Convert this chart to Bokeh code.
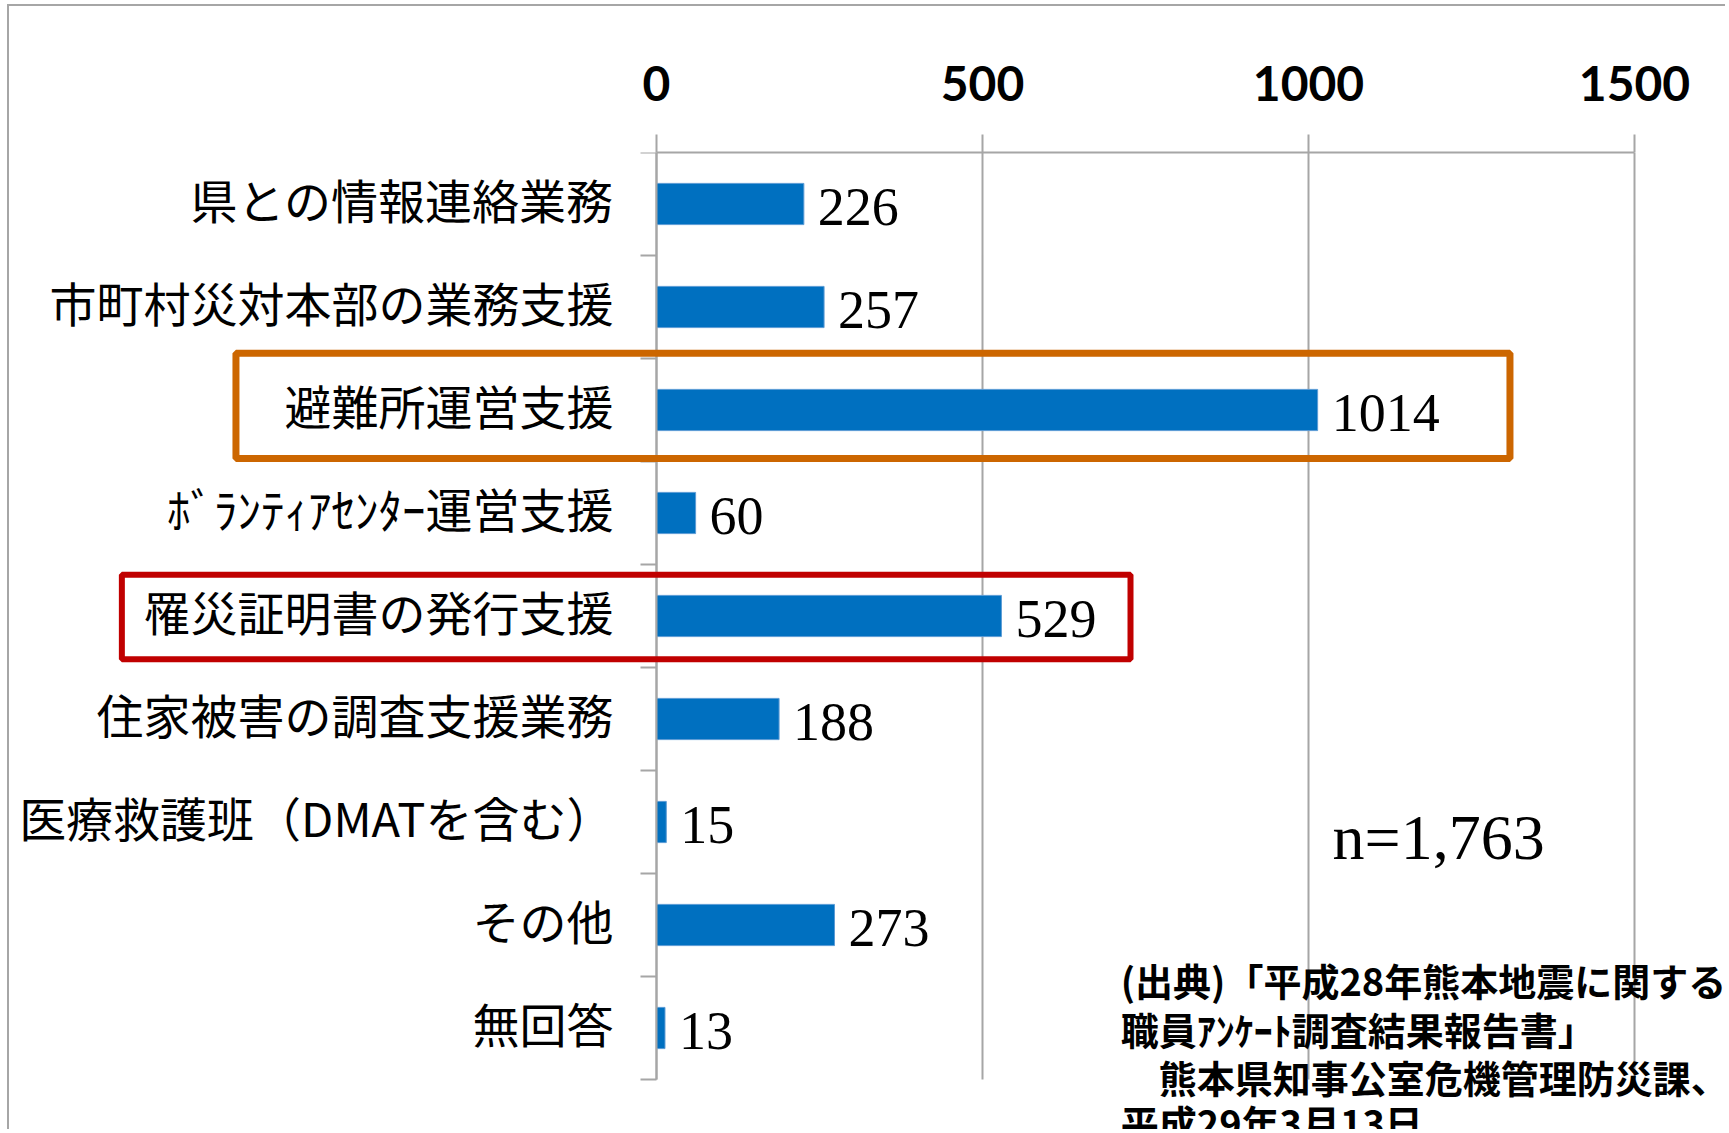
from bokeh.plotting import figure
from bokeh.models import (Range1d, FixedTicker, BoxAnnotation, Label, ColumnDataSource)
from bokeh.embed import file_html
from bokeh.resources import INLINE
from bokeh.core.properties import value

# ---- data ----
categories = ["県との情報連絡業務", "市町村災対本部の業務支援", "避難所運営支援",
              "ﾎﾞﾗﾝﾃｨｱｾﾝﾀｰ運営支援", "罹災証明書の発行支援", "住家被害の調査支援業務",
              "医療救護班（DMATを含む）", "その他", "無回答"]
counts = [226, 257, 1014, 60, 529, 188, 15, 273, 13]
x_ticks = [0, 500, 1000, 1500]
x_tick_labels = ["0", "500", "1000", "1500"]
n_note = "n=1,763"
source_lines = ["(出典)「平成28年熊本地震に関する県",
                "職員ｱﾝｹｰﾄ調査結果報告書」",
                "　熊本県知事公室危機管理防災課、",
                "平成29年3月13日"]
highlight_orange = 2   # index of 避難所運営支援
highlight_red = 4      # index of 罹災証明書の発行支援

W, H = 1718, 1125
TOP = 146
ROW = 103.0
PX = 0.652  # px per unit
x0_px = 647  # canvas x of value 0
nrows = len(categories)
xr = Range1d(-x0_px / PX, (W - x0_px) / PX)
yr = Range1d((H - TOP) / ROW, 0)

p = figure(width=W, height=H, x_range=xr, y_range=yr,
           output_backend="svg", toolbar_location=None,
           x_axis_location="above",
           min_border_left=0, min_border_right=0,
           min_border_top=TOP, min_border_bottom=0)
p.styles = {"margin-left": "7px", "margin-top": "4px",
            "border-left": "2px solid #a6a6a6", "border-top": "2px solid #a6a6a6"}
p.outline_line_color = None
p.background_fill_color = "white"
p.border_fill_color = "white"

centers = [i + 0.5 for i in range(nrows)]
label_pos = [i + 0.45 for i in range(nrows)]
src = ColumnDataSource(dict(y=centers, v=counts, lab=[str(c) for c in counts]))

p.hbar(y="y", right="v", left=0, height=0.4, source=src,
       fill_color="#0070C0", line_color="#5b9bd5", line_width=1)

p.text(x="v", y="y", text="lab", source=src, x_offset=14, y_offset=3,
       text_align="left", text_baseline="middle",
       text_font=value("Liberation Serif"), text_font_size="54px",
       text_color="black")

# x axis (top)
xa = p.xaxis[0]
xa.ticker = FixedTicker(ticks=x_ticks)
xa.major_label_overrides = {t: l for t, l in zip(x_ticks, x_tick_labels)}
xa.bounds = (0, 1500)
xa.axis_line_color = "#a6a6a6"
xa.axis_line_width = 2
xa.major_tick_line_color = "#a6a6a6"
xa.major_tick_line_width = 2
xa.major_tick_out = 18
xa.major_tick_in = 0
xa.minor_tick_line_color = None
xa.major_label_text_font = "Lato"
xa.major_label_text_font_style = "bold"
xa.major_label_text_font_size = "48px"
xa.major_label_text_color = "black"
xa.major_label_standoff = 34

# y axis (categories) at x = 0
ya = p.yaxis[0]
ya.fixed_location = 0
ya.bounds = (0, nrows)
ya.ticker = FixedTicker(ticks=label_pos, minor_ticks=list(range(nrows + 1)))
ya.major_label_overrides = {c: name for c, name in zip(label_pos, categories)}
ya.axis_line_color = "#a6a6a6"
ya.axis_line_width = 2
ya.major_tick_line_color = None
ya.major_tick_out = 0
ya.major_tick_in = 0
ya.minor_tick_line_color = "#a6a6a6"
ya.minor_tick_line_width = 2
ya.minor_tick_out = 16
ya.minor_tick_in = 0
ya.major_label_text_font = "Noto Sans CJK JP"
ya.major_label_text_font_size = "47px"
ya.major_label_text_color = "black"
ya.major_label_standoff = 27

p.xgrid.ticker = FixedTicker(ticks=x_ticks)
p.xgrid.grid_line_color = "#a6a6a6"
p.xgrid.grid_line_width = 2
p.xgrid.cross_bounds = (0, nrows)
p.ygrid.visible = False

# highlight boxes
p.add_layout(BoxAnnotation(left=-645, right=1309, top=highlight_orange - 0.05,
                           bottom=highlight_orange + 0.97, fill_color=None, fill_alpha=0,
                           line_color="#CC6600", line_alpha=1.0, line_width=7))
p.add_layout(BoxAnnotation(left=-820, right=727, top=highlight_red + 0.1,
                           bottom=highlight_red + 0.92, fill_color=None, fill_alpha=0,
                           line_color="#C00000", line_alpha=1.0, line_width=6))

# notes
p.add_layout(Label(x=1037, y=6.65, text=n_note, text_font="Liberation Serif",
                   text_font_size="64px", text_baseline="middle", text_align="left",
                   text_color="black"))
line_y = [8.03, 8.50, 8.97, 9.41]
for t, yy in zip(source_lines, line_y):
    p.add_layout(Label(x=712, y=yy, text=t, text_font="Noto Sans CJK JP",
                       text_font_style="bold", text_font_size="38px",
                       text_baseline="middle", text_align="left", text_color="black"))

open("out.html", "w").write(file_html(p, INLINE))
